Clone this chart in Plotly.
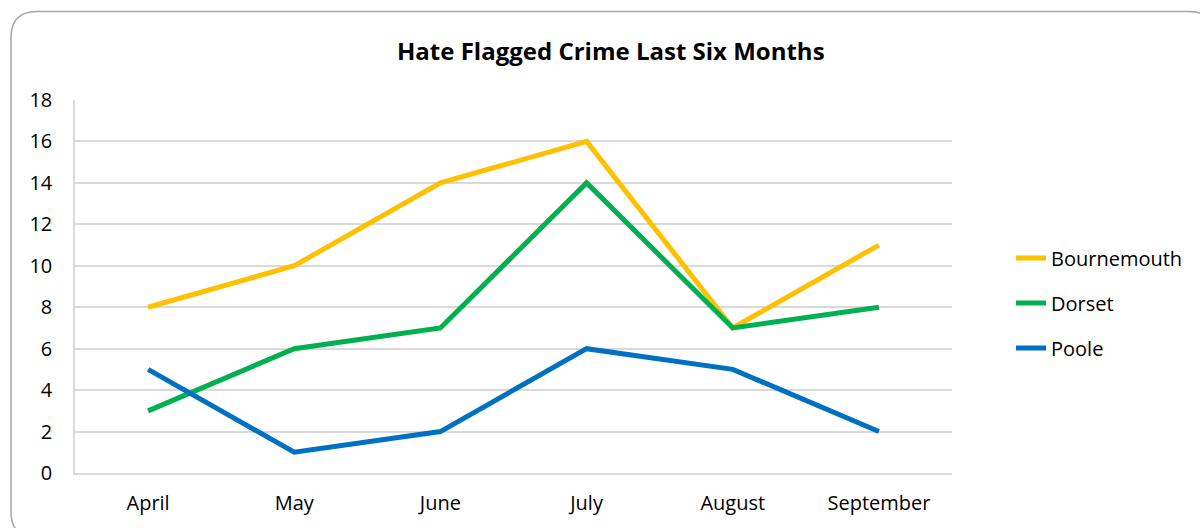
import plotly.graph_objects as go

months = ["April", "May", "June", "July", "August", "September"]
bournemouth = [8, 10, 14, 16, 7, 11]
dorset = [3, 6, 7, 14, 7, 8]
poole = [5, 1, 2, 6, 5, 2]

series = [
    ("Bournemouth", bournemouth, "#FFC000"),
    ("Dorset", dorset, "#00B050"),
    ("Poole", poole, "#0070C0"),
]

W, H = 1200, 528
L, R, T, B = 75, 248, 100, 53
PW, PH = W - L - R, H - T - B

FONT = "Open Sans"

fig = go.Figure()
for name, vals, color in series:
    fig.add_trace(go.Scatter(
        x=months, y=vals, name=name, mode="lines",
        line=dict(color=color, width=5, shape="linear"),
        legendgroup=name,
    ))


def px_x(p):
    return (p - L) / PW


def px_y(p):
    return (H - B - p) / PH


# rounded chart frame (pixel geometry converted to paper units)
x0, y0, x1, y1, r = 11, 11, 1215, 540, 26
pts = [
    ("M", x0, y0 + r), ("Q", x0, y0, x0 + r, y0), ("L", x1 - r, y0),
    ("Q", x1, y0, x1, y0 + r), ("L", x1, y1 - r), ("Q", x1, y1, x1 - r, y1),
    ("L", x0 + r, y1), ("Q", x0, y1, x0, y1 - r), ("Z",),
]
path = ""
for p in pts:
    cmd = p[0]
    coords = p[1:]
    s = cmd
    for i in range(0, len(coords), 2):
        s += f" {px_x(coords[i]):.5f},{px_y(coords[i+1]):.5f}"
    path += s + " "

fig.add_shape(type="path", path=path.strip(), xref="paper", yref="paper",
              line=dict(color="#A6A6A6", width=1.5), layer="below")

fig.add_annotation(
    text="<b>Hate Flagged Crime Last Six Months</b>",
    x=px_x(611), y=px_y(50), xref="paper", yref="paper",
    xanchor="center", yanchor="middle", showarrow=False,
    font=dict(family=FONT, size=24, color="#000000"),
)

fig.update_layout(
    width=W, height=H,
    margin=dict(l=L, r=R, t=T, b=B),
    paper_bgcolor="white", plot_bgcolor="white",
    font=dict(family=FONT, size=20, color="#000000"),
    showlegend=True,
    legend=dict(
        x=px_x(1011), y=px_y(304), xanchor="left", yanchor="middle",
        font=dict(family=FONT, size=20, color="#000000"),
        tracegroupgap=16, bgcolor="rgba(0,0,0,0)",
    ),
    xaxis=dict(
        showgrid=False, showline=True, linecolor="#D9D9D9", linewidth=1.5,
        ticks="", tickfont=dict(size=20), fixedrange=True,
        range=[-0.5, 5.5], ticklabelstandoff=11,
    ),
    yaxis=dict(
        range=[0, 18], tickvals=list(range(0, 19, 2)),
        showgrid=True, gridcolor="#D9D9D9", gridwidth=1.5,
        showline=True, linecolor="#D9D9D9", linewidth=1.5,
        zeroline=False, ticks="", tickfont=dict(size=20),
        ticklabelstandoff=17,
    ),
)

fig.write_html("out.html")
